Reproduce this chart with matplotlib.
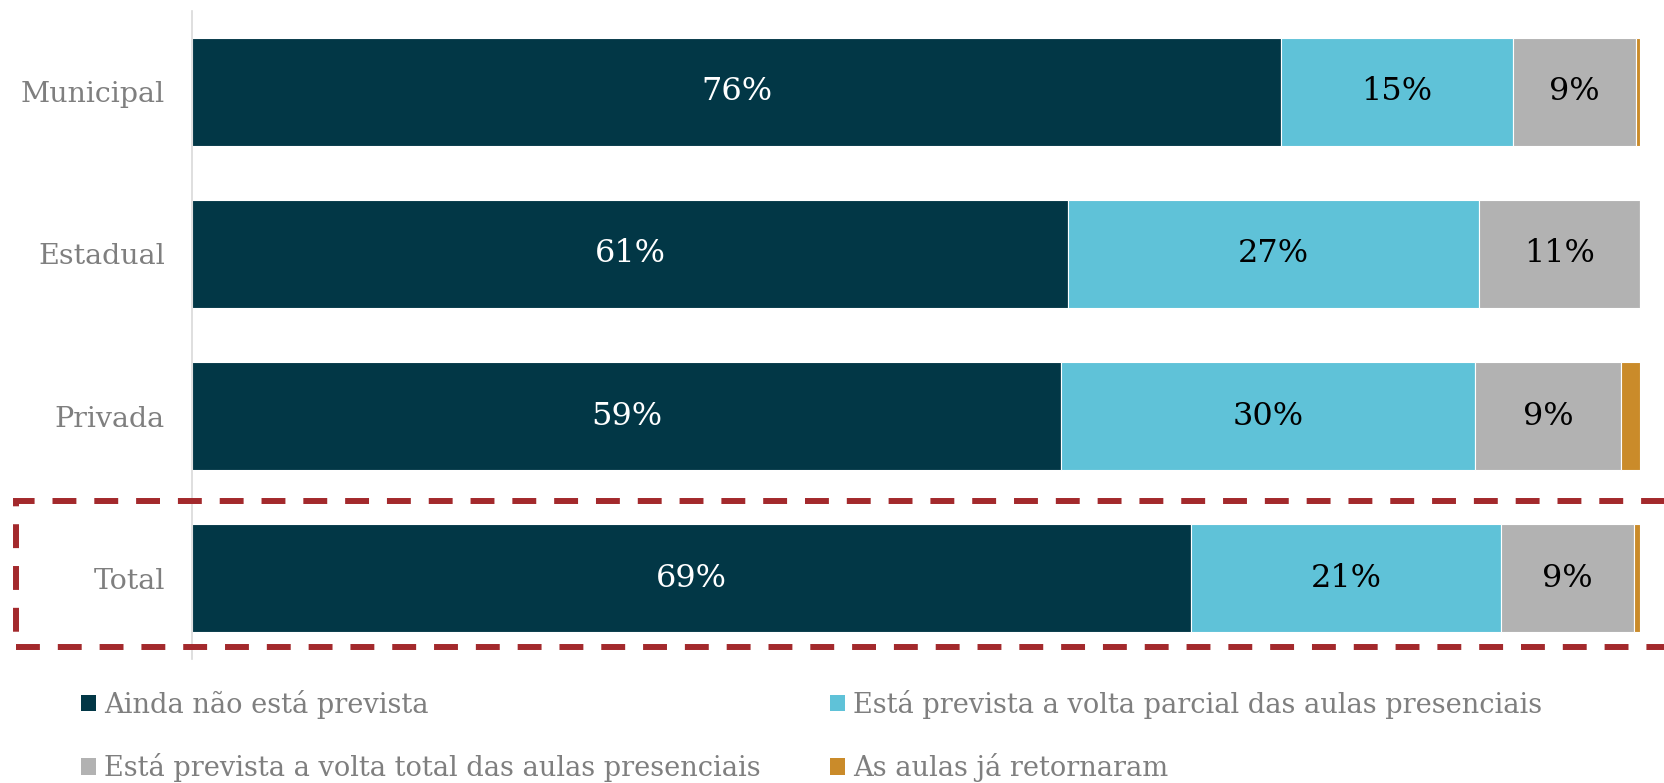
import matplotlib
matplotlib.use("Agg")
import matplotlib.pyplot as plt
from matplotlib.patches import Patch, Rectangle

plt.rcParams['font.family'] = ['DejaVu Serif']

# data (share of schools, %)
categories = ["Municipal", "Estadual", "Privada", "Total"]
series_names = ["Ainda não está prevista",
                "Está prevista a volta parcial das aulas presenciais",
                "Está prevista a volta total das aulas presenciais",
                "As aulas já retornaram"]
ainda = [75.2, 60.5, 60.0, 69.0]
parcial = [16.0, 28.4, 28.6, 21.4]
total_volta = [8.5, 11.1, 10.1, 9.2]
retornaram = [0.3, 0.0, 1.3, 0.4]
# labels as printed in the chart
ainda_lbl = ["76%", "61%", "59%", "69%"]
parcial_lbl = ["15%", "27%", "30%", "21%"]
total_lbl = ["9%", "11%", "9%", "9%"]

colors = ["#023746", "#5fc2d8", "#b2b2b2", "#ca8b2a"]
text_gray = "#7f7f7f"

fig = plt.figure(figsize=(16.65, 7.83), dpi=100)
ax = fig.add_axes([0.1153, 0.1583, 0.8697, 0.8277])

ypos = list(range(len(categories)))
series = [ainda, parcial, total_volta, retornaram]
labels = [ainda_lbl, parcial_lbl, total_lbl, None]
label_colors = ["white", "black", "black", None]

left = [0.0] * len(categories)
for vals, col, lbls, lc in zip(series, colors, labels, label_colors):
    bars = ax.barh(ypos, vals, left=left, height=0.667, color=col,
                   edgecolor="white", linewidth=0.8)
    if lbls is not None:
        ax.bar_label(bars, labels=lbls, label_type="center", color=lc,
                     fontsize=23)
    left = [l + v for l, v in zip(left, vals)]

ax.set_xlim(0, 100)
ax.set_ylim(3.5, -0.5)
ax.set_yticks(ypos)
ax.set_yticklabels(categories, fontsize=20.5, color=text_gray)
ax.tick_params(axis="y", length=0, pad=19.5)
ax.set_xticks([])
for s in ["top", "right", "bottom"]:
    ax.spines[s].set_visible(False)
ax.spines["left"].set_color("#d9d9d9")
ax.spines["left"].set_linewidth(1.2)

# dashed highlight around Total
box = Rectangle((16.5 / 1665, 1 - 647 / 783), 1.0, 146 / 783,
                transform=fig.transFigure, fill=False, edgecolor="#a3292c",
                linewidth=4.3, linestyle=(0, (4, 3)), clip_on=False)
fig.add_artist(box)

# legend, two columns
handles = [Patch(facecolor=c, edgecolor="none") for c in colors]
order = [0, 2, 1, 3]
fig.legend([handles[i] for i in order], [series_names[i] for i in order],
           ncol=2, loc="upper left", bbox_to_anchor=(81 / 1665, 0.119),
           frameon=False, fontsize=19.6, labelcolor=text_gray,
           borderpad=0, borderaxespad=0,
           handlelength=0.55, handleheight=0.55, handletextpad=0.29,
           columnspacing=2.57, labelspacing=1.26)

fig.savefig("out.png", dpi=100)
